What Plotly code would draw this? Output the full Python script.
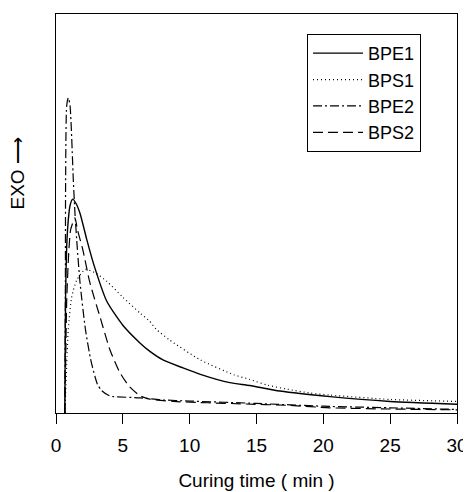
import plotly.graph_objects as go

# curing time (min) and relative heat flow (arbitrary units, EXO up)
t_bpe1 = [0.66, 0.68, 0.72, 0.8, 0.92, 1.05, 1.25, 1.5, 1.8, 2.3, 2.8, 3.8, 5.0, 6.3, 7.0, 8.0, 9.5,
          10.8, 13.0, 14.5, 16.75, 20.5, 25.0, 30.0]
v_bpe1 = [0, 12, 30, 41.7, 48.4, 52, 53.6, 52.5, 50, 43.5, 37.5, 28, 22, 17.5, 15.5, 13.3, 11.3,
          9.7, 7.6, 6.9, 5.5, 4.1, 2.9, 2.2]

t_bps1 = [0.68, 0.72, 0.8, 0.92, 1.17, 1.55, 2.2, 3.0, 3.8, 5.0, 6.3, 7.0, 7.5, 8.5, 10.8, 13.3,
          14.5, 15.8, 17.25, 19.0, 20.5, 25.0, 30.0]
v_bps1 = [0, 5, 12, 21, 29, 33.3, 36, 35, 33, 29, 25, 23, 21, 18.3, 13.3, 9.6,
          8.4, 7.0, 6.0, 5.0, 4.5, 3.4, 2.9]

t_bpe2 = [0.66, 0.70, 0.72, 0.8, 0.92, 1.05, 1.3, 1.42, 1.6, 1.8, 2.2, 2.6, 2.92, 3.1, 3.42, 4.0,
          4.3, 6.3, 7.8, 10.0, 15.0, 20.0, 25.0, 30.0]
v_bpe2 = [0, 30, 58, 77, 79, 77, 58, 50, 41, 32.6, 21, 13.3, 9.1, 7.2, 5.6, 4.3,
          4.1, 3.8, 3.3, 3.0, 2.4, 1.7, 1.3, 0.9]

t_bps2 = [0.66, 0.72, 0.8, 0.95, 1.1, 1.42, 1.6, 2.0, 2.54, 3.3, 4.04, 4.8, 5.5, 6.3, 7.0, 8.8,
          13.8, 17.5, 20.5, 25.0, 30.0]
v_bps2 = [0, 12, 28, 40, 46, 48.9, 46, 41, 32.6, 24, 15.8, 10, 6.6, 4.3, 3.5, 2.9,
          2.3, 1.9, 1.3, 1.0, 0.8]

x_ticks = [0, 5, 10, 15, 20, 25, 30]

series = [
    ("BPE1", t_bpe1, v_bpe1, "solid", 1.4),
    ("BPS1", t_bps1, v_bps1, "1px,3px", 1.2),
    ("BPE2", t_bpe2, v_bpe2, "9px,3px,2px,3px", 1.2),
    ("BPS2", t_bps2, v_bps2, "10px,5px", 1.2),
]

fig = go.Figure()
for name, t, v, dash, w in series:
    fig.add_trace(go.Scatter(
        x=t, y=v, name=name, mode="lines",
        line=dict(color="black", width=w, dash=dash, shape="spline", smoothing=0.6),
    ))

family = "Liberation Sans, Arial, sans-serif"
font = dict(family=family, size=19, color="black")

# the page body adds an 8px offset, margins are set to compensate
fig.update_layout(
    width=471, height=492,
    margin=dict(l=48, r=22, t=6, b=87),
    paper_bgcolor="white", plot_bgcolor="white",
    font=font,
    showlegend=True,
    legend=dict(
        x=0.626, y=0.95, xanchor="left", yanchor="top",
        bordercolor="black", borderwidth=1, bgcolor="white",
        font=dict(family=family, size=18),
        tracegroupgap=0, itemwidth=50,
    ),
    xaxis=dict(
        range=[0, 30], tickvals=x_ticks, ticks="outside", ticklen=10, tickwidth=1,
        tickcolor="black", showline=True, linecolor="black", linewidth=1.2, mirror=True,
        showgrid=False, zeroline=False, ticklabelstandoff=5,
        title=dict(text="Curing time ( min )", standoff=18, font=dict(family=family, size=19)),
    ),
    yaxis=dict(
        range=[0, 100], showticklabels=False, ticks="", showline=True, linecolor="black",
        linewidth=1.2, mirror=True, showgrid=False, zeroline=False,
    ),
    annotations=[dict(
        text="EXO ⟶", textangle=-90, xref="paper", yref="paper",
        x=-0.095, y=0.6, xanchor="center", yanchor="middle", showarrow=False,
        font=font,
    )],
)

fig.write_html("out.html")
